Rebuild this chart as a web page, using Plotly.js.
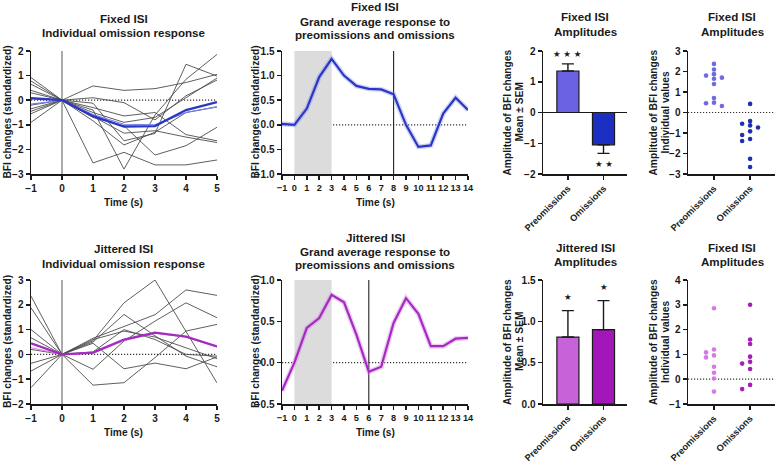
<!DOCTYPE html>
<html>
<head>
<meta charset="utf-8">
<script src="https://cdn.plot.ly/plotly-3.0.1.min.js"></script>
<style>
  html, body { margin: 0; padding: 0; background: #fff; }
  #chart { width: 776px; height: 463px; }
</style>
</head>
<body>
<div id="chart"></div>
<script>
// ---- data ----
const tInd = [-1, 0, 1, 2, 3, 4, 5];
const tAvg = [-1, 0, 1, 2, 3, 4, 5, 6, 7, 8, 9, 10, 11, 12, 13, 14];
const groups = ['Preomissions', 'Omissions'];

// fixed ISI, individual omission responses
const fixedSubjects = [
    [0.92, 0, 0.58, 0.40, 0.47, 0.72, 1.05],
    [0.78, 0, 0.10, -0.10, -0.80, 0.18, 0.82],
    [0.65, 0, -0.12, -1.65, -1.35, 1.46, 0.98],
    [0.40, 0, -0.30, -0.64, -0.50, -1.40, -1.65],
    [0.30, 0, -0.66, -1.34, -1.24, -1.50, -1.72],
    [-0.20, 0, -0.84, -1.82, -1.30, -0.50, -0.27],
    [-0.45, 0, -2.55, -2.12, -2.63, -2.63, -2.43],
    [-0.55, 0, -0.40, -2.80, -0.60, 0.85, 1.86],
    [-0.90, 0, -0.70, -1.04, -2.23, -1.85, -1.10],
    [-0.35, 0, -0.50, -0.90, -0.70, 0.10, 0.90]
];
const fixedMean = [0.08, 0, -0.65, -1.07, -1.05, -0.40, -0.08];
const fixedMeanThin = [-0.16, 0, -0.58, -0.98, -1.00, -0.50, -0.27];

// fixed ISI, grand average
const fixedAvg = [0.02, 0, 0.33, 0.97, 1.34, 1.00, 0.79, 0.73, 0.72, 0.62, 0.00, -0.45, -0.42, 0.23, 0.55, 0.30];

// fixed ISI amplitudes
const fixedAmpMean = [1.35, -1.05];
const fixedAmpSem = [0.23, 0.28];
const fixedSig = ['★ ★ ★', '★ ★'];
const fixedPre = [1.80, 2.37, 2.10, 1.87, 1.70, 1.65, 1.39, 0.71, 0.48, 0.45, 0.32];
const fixedOm = [0.42, -0.55, -0.42, -0.73, -0.63, -0.92, -1.10, -1.29, -1.39, -2.26, -2.66];

// jittered ISI, individual omission responses
const jitSubjects = [
    [2.35, 0, 0.55, 2.08, 3.00, 0.94, -1.15],
    [1.88, 0, 0.65, 1.14, 1.60, 2.60, 2.38],
    [1.00, 0, -0.60, 0.54, 1.34, 2.08, 1.48],
    [0.67, 0, 0.50, 1.61, 0.75, -0.07, -0.50],
    [-0.36, 0, -1.24, -1.14, -0.13, 0.94, 1.21],
    [-0.67, 0, 0.60, 0.94, 0.70, 0.27, -0.17],
    [-1.34, 0, 0.45, -0.58, -0.35, -0.58, -0.10],
    [0.20, 0, 0.10, 1.00, 0.60, 0.00, -0.07]
];
const jitMean = [0.45, 0, 0.07, 0.60, 0.88, 0.72, 0.32];
const jitMeanThin = [0.27, 0, 0.05, 0.55, 0.85, 0.70, 0.30];

// jittered ISI, grand average
const jitAvg = [-0.34, 0, 0.42, 0.54, 0.82, 0.73, 0.34, -0.11, -0.05, 0.48, 0.78, 0.59, 0.20, 0.20, 0.29, 0.30];

// jittered ISI amplitudes
const jitAmpMean = [0.81, 0.90];
const jitAmpSem = [0.32, 0.35];
const jitSig = ['★', '★'];
const jitPre = [2.86, 1.08, 1.20, 0.88, 0.96, 0.50, 0.26, 0.03, -0.50];
const jitOm = [3.00, 1.60, 1.42, 0.91, 0.70, 0.63, 0.41, -0.23, -0.40];

// ---- layout helpers ----
const W = 776, H = 463;
const FONT = 'Liberation Sans, Arial, sans-serif';
const INK = '#1a1a1a';
const DOTS = '1.2px,1.8px';

// plot boxes in pixels [left, right, top, bottom]
const boxes = [
    [31, 217, 51, 174], [282, 468, 51, 174], [543, 627, 51, 174], [688, 775, 51, 174],
    [31, 217, 280, 404], [282, 468, 280, 404], [543, 627, 280, 404], [688, 775, 280, 404]
];

function xDom(b) { return [b[0] / W, b[1] / W]; }
function yDom(b) { return [1 - b[3] / H, 1 - b[2] / H]; }

function tickFont(size) {
    return { family: FONT, size: size, color: INK, weight: 700 };
}

function baseAxis() {
    return {
        showline: true, linecolor: INK, linewidth: 1.5,
        ticks: 'outside', ticklen: 4, tickwidth: 1.5, tickcolor: INK,
        showgrid: false, zeroline: false, fixedrange: true,
        tickfont: tickFont(10)
    };
}

// simple beeswarm: push overlapping dots sideways
function swarm(vals, center, pxPerUnit) {
    const xs = vals.map(() => center);
    const placed = [];
    const order = vals.map((v, i) => i).sort((a, b) => vals[b] - vals[a]);
    order.forEach(i => {
        for (const s of [0, -1, 1, -2, 2]) {
            const clash = placed.some(p => p.s === s && Math.abs(p.v - vals[i]) * pxPerUnit < 4.3);
            if (!clash) {
                xs[i] = center + s * 0.22;
                placed.push({ s: s, v: vals[i] });
                break;
            }
        }
    });
    return xs;
}

const traces = [];
const layout = {
    width: W, height: H,
    margin: { l: 0, r: 0, t: 0, b: 0 },
    paper_bgcolor: '#fff', plot_bgcolor: 'rgba(0,0,0,0)',
    showlegend: false,
    font: { family: FONT, color: INK },
    shapes: [], annotations: []
};

const ranges = [[-3, 2], [-1, 1.5], [-2, 2], [-3, 3], [-2, 3], [-0.5, 1], [0, 1.5], [-1, 4]];

boxes.forEach((b, k) => {
    const n = k + 1;
    const half = (k === 1 || k === 5 || k === 6);
    const xa = Object.assign(baseAxis(), { domain: xDom(b), anchor: 'y' + n });
    const ya = Object.assign(baseAxis(), { domain: yDom(b), anchor: 'x' + n, range: ranges[k], dtick: half ? 0.5 : 1 });
    if (half) ya.tickformat = '.1f';
    if (k % 4 === 0) { xa.range = [-1, 5]; xa.dtick = 1; xa.tickangle = 0; }
    if (k % 4 === 1) { xa.range = [-1, 14]; xa.dtick = 1; xa.tickangle = 0; xa.tickfont = tickFont(9.2); }
    if (k % 4 >= 2) {
        xa.range = k % 4 === 2 ? [-0.7, 1.66] : [-0.72, 1.69];
        xa.tickvals = [0, 1]; xa.ticktext = groups; xa.tickangle = -45;
        xa.tickfont = tickFont(9.2);
    }
    layout['xaxis' + n] = xa;
    layout['yaxis' + n] = ya;
});

function ax(n) { return { xaxis: 'x' + n, yaxis: 'y' + n }; }

function hline(n, dash, color) {
    layout.shapes.push({ type: 'line', xref: 'x' + n + ' domain', yref: 'y' + n, x0: 0, x1: 1, y0: 0, y1: 0,
        line: { color: color || '#333', width: 1.2, dash: dash }, layer: 'below' });
}
function vline(n, x, color) {
    layout.shapes.push({ type: 'line', xref: 'x' + n, yref: 'y' + n + ' domain', x0: x, x1: x, y0: 0, y1: 1,
        line: { color: color, width: 1.1 }, layer: 'below' });
}

function text(xPx, yPx, txt, size, angle) {
    layout.annotations.push({
        xref: 'paper', yref: 'paper', x: xPx / W, y: 1 - yPx / H,
        xanchor: 'center', yanchor: 'middle', showarrow: false, text: txt,
        textangle: angle || 0,
        font: { family: FONT, size: size, color: INK, weight: 700 }
    });
}

// ---- individual response panels ----
function individualPanel(n, subjects, mean, thin, color, thinColor) {
    hline(n, DOTS);
    vline(n, 0, '#666');
    subjects.forEach(s => traces.push(Object.assign({
        x: tInd, y: s, type: 'scatter', mode: 'lines',
        line: { color: '#4d4d4d', width: 0.9 }, hoverinfo: 'skip'
    }, ax(n))));
    traces.push(Object.assign({ x: tInd, y: thin, type: 'scatter', mode: 'lines',
        line: { color: thinColor, width: 1.1 } }, ax(n)));
    traces.push(Object.assign({ x: tInd, y: mean, type: 'scatter', mode: 'lines',
        line: { color: color, width: 2.3 } }, ax(n)));
}

// ---- grand average panels ----
function averagePanel(n, vals, color, haloColor, markerX) {
    hline(n, DOTS);
    layout.shapes.push({ type: 'rect', xref: 'x' + n, yref: 'y' + n + ' domain', x0: 0, x1: 3, y0: 0, y1: 1,
        fillcolor: '#dcdcdc', line: { width: 0 }, layer: 'below' });
    vline(n, markerX, '#222');
    traces.push(Object.assign({ x: tAvg, y: vals, type: 'scatter', mode: 'lines',
        line: { color: haloColor, width: 5 } }, ax(n)));
    traces.push(Object.assign({ x: tAvg, y: vals, type: 'scatter', mode: 'lines',
        line: { color: color, width: 2.2 } }, ax(n)));
}

// ---- bar panels ----
function barPanel(n, means, sems, sig, colors, starGap) {
    if (ranges[n - 1][0] < 0) hline(n, 'solid', INK);
    traces.push(Object.assign({
        x: [0, 1], y: means, type: 'bar', width: 0.62,
        marker: { color: colors, line: { color: INK, width: 1.2 } },
        error_y: {
            type: 'data', symmetric: false,
            array: means.map((m, i) => m >= 0 ? sems[i] : 0),
            arrayminus: means.map((m, i) => m < 0 ? sems[i] : 0),
            color: INK, thickness: 1.4, width: 6
        }
    }, ax(n)));
    means.forEach((m, i) => {
        const y = m >= 0 ? m + sems[i] + starGap : m - sems[i] - starGap;
        layout.annotations.push({ xref: 'x' + n, yref: 'y' + n, x: i, y: y, text: sig[i],
            showarrow: false, font: { family: 'DejaVu Sans', size: 8.5, color: INK } });
    });
}

// ---- individual values panels ----
function dotPanel(n, pre, om, colors) {
    hline(n, DOTS);
    const b = boxes[n - 1];
    const pxPerUnit = (b[3] - b[2]) / (ranges[n - 1][1] - ranges[n - 1][0]);
    [pre, om].forEach((vals, i) => traces.push(Object.assign({
        x: swarm(vals, i, pxPerUnit), y: vals, type: 'scatter', mode: 'markers',
        marker: { color: colors[i], size: 4.6 }, cliponaxis: false
    }, ax(n))));
}

individualPanel(1, fixedSubjects, fixedMean, fixedMeanThin, '#2a36c4', '#6f7fe6');
averagePanel(2, fixedAvg, '#2a36c4', 'rgba(120,130,230,0.35)', 8);
barPanel(3, fixedAmpMean, fixedAmpSem, fixedSig, ['#6a62e3', '#1b30c2'], 0.33);
dotPanel(4, fixedPre, fixedOm, ['#6f6ae0', '#1e2fb0']);

individualPanel(5, jitSubjects, jitMean, jitMeanThin, '#a52bc0', '#d07fe2');
averagePanel(6, jitAvg, '#a52bc0', 'rgba(210,130,230,0.4)', 6);
barPanel(7, jitAmpMean, jitAmpSem, jitSig, ['#c763d8', '#a317ba'], 0.17);
dotPanel(8, jitPre, jitOm, ['#d678e6', '#a51eb8']);

// ---- panel titles, one annotation per line ----
const TS = 11.6;
function title(xc, ys, lines) {
    lines.forEach((ln, i) => text(xc, ys[i], ln, TS));
}
title(124, [18, 33], ['Fixed ISI', 'Individual omission response']);
title(375, [7, 21, 34.5], ['Fixed ISI', 'Grand average response to', 'preomissions and omissions']);
title(585, [17, 31], ['Fixed ISI', 'Amplitudes']);
title(732, [17, 31], ['Fixed ISI', 'Amplitudes']);
title(124, [248, 263], ['Jittered ISI', 'Individual omission response']);
title(375, [237, 251, 264.5], ['Jittered ISI', 'Grand average response to', 'preomissions and omissions']);
title(585, [247, 261], ['Jittered ISI', 'Amplitudes']);
title(732, [247, 261], ['Fixed ISI', 'Amplitudes']);

// ---- axis titles ----
const AS = 10.2;
[[112.5, 0], [342, 230]].forEach(([yc, y0]) => {
    text(7, yc, 'BFI changes (standardized)', AS, -90);
    text(255, yc, 'BFI changes (standardized)', AS, -90);
    text(124, 202 + y0, 'Time (s)', AS);
    text(375, 202 + y0, 'Time (s)', AS);
    text(507, yc, 'Amplitude of BFI changes', AS, -90);
    text(519, yc, 'Mean ± SEM', AS, -90);
    text(653, yc, 'Amplitude of BFI changes', AS, -90);
    text(665, yc, 'Individual values', AS, -90);
});

Plotly.newPlot('chart', traces, layout, { staticPlot: true, displayModeBar: false });
</script>
</body>
</html>
